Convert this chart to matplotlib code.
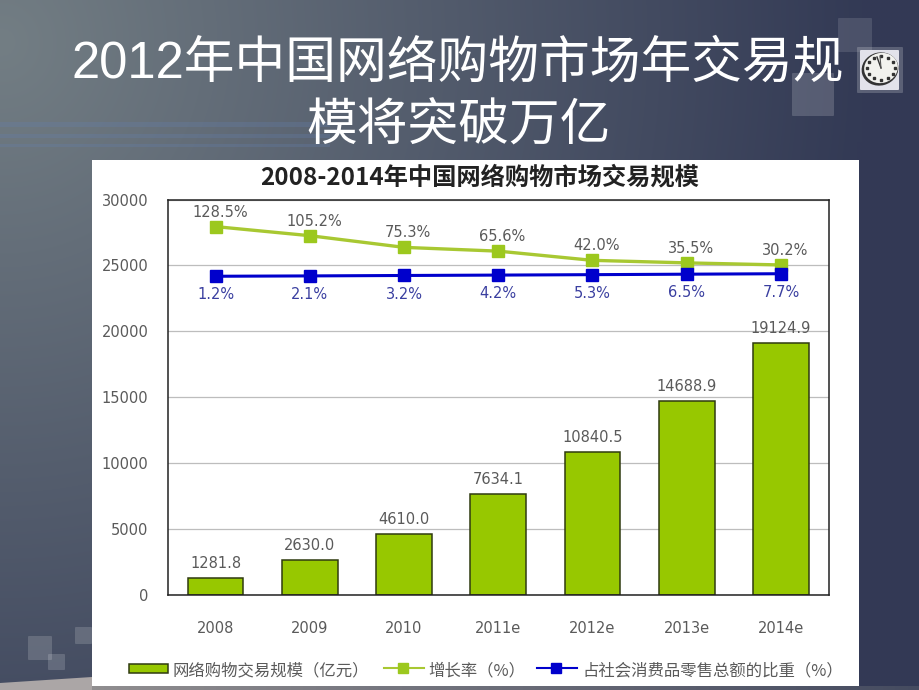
import numpy as np
import matplotlib
matplotlib.use('Agg')
import matplotlib.pyplot as plt
from matplotlib.patches import Rectangle, FancyBboxPatch, Polygon, Ellipse

fonte = ['DejaVu Sans', 'Noto Sans CJK SC']
plt.rcParams['font.family'] = fonte

# dados
anos = ['2008', '2009', '2010', '2011e', '2012e', '2013e', '2014e']
volume = [1281.8, 2630.0, 4610.0, 7634.1, 10840.5, 14688.9, 19124.9]
crescimento = [128.5, 105.2, 75.3, 65.6, 42.0, 35.5, 30.2]
crescimento_txt = ['128.5%', '105.2%', '75.3%', '65.6%', '42.0%', '35.5%', '30.2%']
proporcao = [1.2, 2.1, 3.2, 4.2, 5.3, 6.5, 7.7]
proporcao_txt = ['1.2%', '2.1%', '3.2%', '4.2%', '5.3%', '6.5%', '7.7%']
yticks = [0, 5000, 10000, 15000, 20000, 25000, 30000]

W, H = 920, 690
VERDE = '#97C800'
VERDE_LINHA = '#A8C832'
AZUL = '#0000CC'
CINZA = '#5A5A5A'

fig = plt.figure(figsize=(9.2, 6.9), dpi=100)

# fundo do slide
bg = fig.add_axes([0, 0, 1, 1])
gx, gy = np.meshgrid(np.arange(0, W, 5), np.arange(0, H, 5))
d = np.clip(np.sqrt((gx / 860) ** 2 + ((gy - 40) / 900) ** 2), 0, 1)
c1 = np.array([0x73, 0x7E, 0x84]) / 255
c2 = np.array([0x33, 0x3A, 0x55]) / 255
bg.imshow(c1 + (c2 - c1) * d[..., None], extent=[0, W, H, 0], aspect='auto', interpolation='bilinear')
bg.set_xlim(0, W)
bg.set_ylim(H, 0)
bg.axis('off')

# faixas horizontais do fundo
for y0, alt in [(122, 5), (134, 4), (144, 3)]:
    bg.add_patch(Rectangle((0, y0), 330, alt, color='#6480B0', alpha=0.28, lw=0))

# quadrados decorativos
quadrados = [(838, 18, 34, 34, 0.12), (792, 73, 42, 43, 0.17),
             (28, 636, 24, 24, 0.16), (48, 654, 17, 16, 0.16), (75, 627, 17, 17, 0.16)]
for x, y, w, h, a in quadrados:
    bg.add_patch(FancyBboxPatch((x + 1, y + 1), w - 2, h - 2, boxstyle='round,pad=1',
                                fc='white', ec='none', alpha=a))

# faixa inferior
bg.add_patch(Polygon([(0, 683), (92, 677), (92, 690), (0, 690)], color='#ABA6A6', lw=0))
faixa = np.linspace(0, 1, 200)[None, :, None]
cor_a = np.array([0x90, 0x8E, 0x90]) / 255
cor_b = np.array([0x45, 0x4B, 0x60]) / 255
bg.imshow(cor_a + (cor_b - cor_a) * faixa, extent=[92, W, 690, 686], aspect='auto')
bg.set_xlim(0, W)
bg.set_ylim(H, 0)

# relogio (icone)
bg.add_patch(FancyBboxPatch((858, 48), 44, 44, boxstyle='round,pad=1', fc='white', ec='none', alpha=0.2))
bg.add_patch(FancyBboxPatch((861, 51), 37, 38, boxstyle='round,pad=1', fc='#E2E2EA', ec='none'))
bg.add_patch(Ellipse((880, 69), 37, 33, angle=-15, fc='#333333', ec='none'))
bg.add_patch(Ellipse((881, 68), 34, 30, angle=-15, fc='#F2F2EE', ec='none'))
for ang in np.arange(0, 360, 30):
    r = np.radians(ang)
    bg.plot(881 + 14 * np.cos(r), 68 + 12 * np.sin(r), 's', ms=1.5, color='#333333')
bg.plot([881, 877], [68, 57], color='#333333', lw=1)
bg.plot([881, 880], [68, 56], color='#555555', lw=0.8)

# titulo
fig.text(458 / W, 1 - 64 / H, '2012年中国网络购物市场年交易规', color='white', fontsize=36.5,
         ha='center', va='center', family=['Liberation Sans', 'Noto Sans CJK SC'])
fig.text(459 / W, 1 - 127 / H, '模将突破万亿', color='white', fontsize=36.5,
         ha='center', va='center', family=['Liberation Sans', 'Noto Sans CJK SC'])

# painel branco
bg.add_patch(Rectangle((92, 160), 767, 526, color='white', lw=0))

fig.text(480 / W, 1 - 177 / H, '2008-2014年中国网络购物市场交易规模', color='#222222',
         fontsize=17.5, fontweight='bold', ha='center', va='center', family=['Noto Sans CJK SC'])

# area do grafico
esq, dir_, topo, base = 168, 829, 199.5, 595
ax = fig.add_axes([esq / W, 1 - base / H, (dir_ - esq) / W, (base - topo) / H])
ax.patch.set_alpha(0)
x = np.arange(len(anos))
ax.bar(x, volume, width=0.59, color=VERDE, edgecolor='#2F3A10', linewidth=1.1, zorder=2)
ax.set_xlim(-0.505, 6.51)
ax.set_ylim(0, 30000)
ax.set_yticks(yticks)
ax.tick_params(axis='y', length=0, labelsize=10.5, labelcolor=CINZA, pad=14)
ax.set_xticks(x)
ax.set_xticklabels(anos)
ax.tick_params(axis='x', length=0, labelsize=10.5, labelcolor=CINZA, pad=19)
ax.grid(axis='y', color='#BDBDBD', lw=0.9, zorder=0)
ax.set_axisbelow(True)
for s in ax.spines.values():
    s.set_color('#222222')
    s.set_linewidth(1.1)

for i, v in enumerate(volume):
    ax.annotate(f'{v:.1f}', (i, v), xytext=(0, 5), textcoords='offset points',
                ha='center', va='bottom', fontsize=10.5, color=CINZA, zorder=6)

# eixo secundario (oculto) para as porcentagens
ax2 = ax.twinx()
ax2.set_ylim(-816, 198)
ax2.axis('off')
ax2.plot(x, crescimento, color=VERDE_LINHA, lw=2.4, marker='s', ms=8.5,
         mfc='#9CC81E', mec='#9CC81E', zorder=4)
ax2.plot(x, proporcao, color=AZUL, lw=2.2, marker='s', ms=8,
         mfc=AZUL, mec=AZUL, zorder=5)
for i in range(len(anos)):
    ax2.annotate(crescimento_txt[i], (i, crescimento[i]), xytext=(3, 5), textcoords='offset points',
                 ha='center', va='bottom', fontsize=10.5, color=CINZA)
    ax2.annotate(proporcao_txt[i], (i, proporcao[i]), xytext=(0, -8), textcoords='offset points',
                 ha='center', va='top', fontsize=10.5, color='#3A3FA0')

# legenda
leg = fig.add_axes([0, 0, 1, 1])
leg.set_xlim(0, W)
leg.set_ylim(H, 0)
leg.axis('off')
fonte_leg = ['Noto Sans CJK SC']
leg.add_patch(Rectangle((129.5, 663.5), 39, 9, fc=VERDE, ec='#2F3A10', lw=1.1))
leg.text(173, 671, '网络购物交易规模（亿元）', fontsize=11.8, color=CINZA, va='center', family=fonte_leg)
leg.plot([384, 424], [668, 668], color=VERDE_LINHA, lw=1.5)
leg.plot([403], [668], 's', ms=7, color='#9CC81E')
leg.text(428, 671, '增长率（%）', fontsize=11.8, color=CINZA, va='center', family=fonte_leg)
leg.plot([537, 577], [668, 668], color=AZUL, lw=1.5)
leg.plot([556], [668], 's', ms=6.5, color=AZUL)
leg.text(582, 671, '占社会消费品零售总额的比重（%）', fontsize=11.8, color=CINZA, va='center', family=fonte_leg)

fig.savefig('out.png', dpi=100)
